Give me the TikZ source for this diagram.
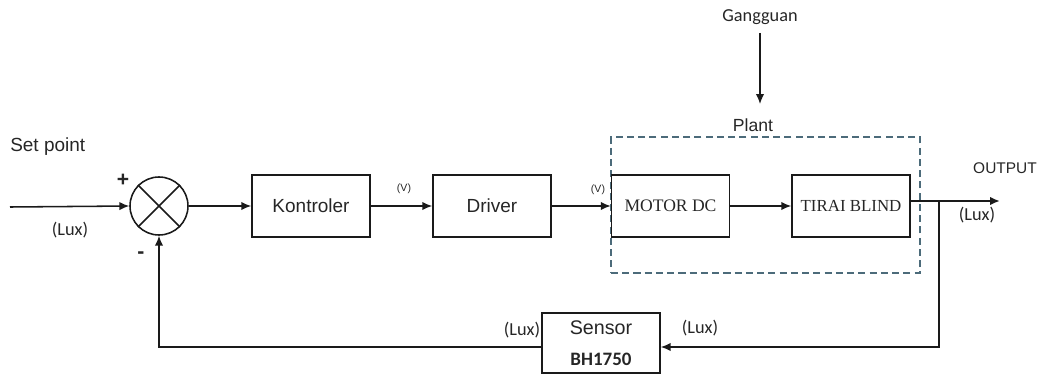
\documentclass[tikz,border=0pt]{standalone}
\usepackage{fontspec}
\setmainfont{Liberation Sans}
\newfontfamily\calibrifont{Carlito}
\newfontfamily\serifblok{Liberation Serif}
\usetikzlibrary{arrows.meta, calc, positioning}
\definecolor{garis}{HTML}{1A1A1A}
\definecolor{teks}{HTML}{262626}
\definecolor{plantbatas}{HTML}{4C6B7A}
\tikzset{
  % blok fungsi alih
  blok/.style={draw=garis, line width=1.1pt, minimum width=2.95cm, minimum height=1.55cm,
    inner sep=0pt, align=center, text=teks, font=\fontsize{13.5}{15}\selectfont},
  blokserif/.style={blok, font=\serifblok\fontsize{12.5}{14}\selectfont},
  % titik penjumlah
  penjumlah/.style={circle, draw=garis, line width=1.1pt, minimum size=1.45cm, inner sep=0pt},
  % sinyal
  sinyal/.style={-{Latex[length=7pt, width=6pt]}, line width=1.1pt, draw=garis},
  % label kecil
  lbl/.style={font=\calibrifont\fontsize{13}{15}\selectfont, text=teks, inner sep=0pt},
  lblv/.style={font=\fontsize{7.5}{9}\selectfont, text=teks, inner sep=0pt},
  lblsans/.style={font=\fontsize{12}{14}\selectfont, text=teks, inner sep=0pt},
  % batas plant
  batasplant/.style={draw=plantbatas, dashed, dash pattern=on 5pt off 3pt, line width=0.9pt,
    minimum width=7.725cm, minimum height=3.4cm},
}

\begin{document}
\begin{tikzpicture}[x=0.025cm, y=-0.025cm]
  \useasboundingbox (0,0) rectangle (1043,374);
  \node[batasplant] (plant) at (765.5,205) {};
  \node[lblsans, font=\fontsize{12.5}{14}\selectfont] (plantlbl) at (753,125) {Plant};
  \node[penjumlah] (sum) at (159,206) {};
  \draw[line width=1.1pt, garis] (sum.north west) -- (sum.south east) (sum.north east) -- (sum.south west);
  \node[blok] (kontroler) at (311,206) {Kontroler};
  \node[blok] (driver) at (492,206) {Driver};
  \node[blokserif] (motor) at (670.5,206) {MOTOR DC};
  \node[blokserif, font=\serifblok\fontsize{12}{14}\selectfont] (tirai) at (851,206) {TIRAI BLIND};
  \node[blok, minimum height=1.5cm, anchor=north] (sensor) at (601,312)
    {\fontsize{14}{16}\selectfont Sensor\\[7pt]{\calibrifont\bfseries\fontsize{13.5}{15}\selectfont BH1750}};
  \coordinate (masuk) at (10,207);
  \coordinate (keluar) at (1000,201);
  \coordinate (cabang) at (939,201);
  \coordinate (balikkanan) at (939,347);
  \coordinate (balikkiri) at (159,347);
  \coordinate (gangguanujung) at (760,104);
  \node[lblsans, font=\fontsize{13.5}{15}\selectfont, anchor=west] (setpoint) at (10,147) {Set point};
  \node[lbl] (luxin) at (70,230) {(Lux)};
  \node[text=teks, font=\bfseries\fontsize{15}{16}\selectfont, inner sep=0pt] (plus) at (123,180) {+};
  \node[text=teks, font=\bfseries\fontsize{15}{16}\selectfont, inner sep=0pt] (minus) at (141,255) {-};
  \node[lblv] (v1) at (404,189) {(V)};
  \node[lblv] (v2) at (598,190) {(V)};
  \node[lblsans, font=\fontsize{11}{13}\selectfont] (output) at (1005,168) {OUTPUT};
  \node[lbl] (luxout) at (977,215) {(Lux)};
  \node[lbl] (luxsenkiri) at (522,330) {(Lux)};
  \node[lbl] (luxsenkanan) at (700,328) {(Lux)};
  \node[lbl] (gangguan) at (760,17) {Gangguan};
  \draw[sinyal] (masuk) -- (sum.west);
  \draw[sinyal] (sum.east) -- (kontroler.west);
  \draw[sinyal] (kontroler.east) -- (driver.west);
  \draw[sinyal] (driver.east) -- (motor.west);
  \draw[sinyal] (motor.east) -- (tirai.west);
  \draw[sinyal, line width=1.8pt] (tirai.east |- keluar) -- (keluar);
  \draw[sinyal] (cabang) -- (balikkanan) -- (sensor.east |- balikkanan);
  \draw[sinyal] (sensor.west |- balikkiri) -- (balikkiri) -- (sum.south);
  \draw[sinyal] ($(gangguan.south)+(0,8)$) -- (gangguanujung);
\end{tikzpicture}
\end{document}
